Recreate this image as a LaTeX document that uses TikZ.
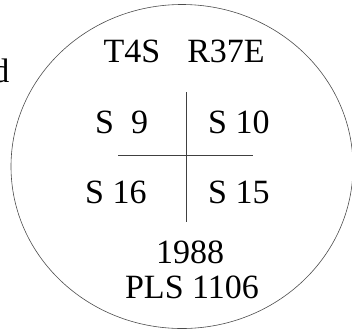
\documentclass[tikz,border=0pt]{standalone}
\usepackage{fontspec}
\setmainfont{Liberation Serif}
\usepackage{tikz}
\usetikzlibrary{positioning}

\begin{document}
\begin{tikzpicture}[x=1pt, y=-1pt,
    lbl/.style={inner sep=0pt, font=\fontsize{34}{40}\selectfont},
    rim/.style={draw=black!70, line width=0.6pt},
    cross/.style={draw=black!75, line width=0.6pt}]
  \useasboundingbox (0,0) rectangle (352,330);
  \draw[rim] (182,166.5) ellipse [x radius=171, y radius=162];
  \node[lbl, anchor=base east] (cut) at (9.5,82) {d};
  \node[lbl, anchor=base] (t4s)  at (132,62) {T4S};
  \node[lbl, anchor=base] (r37e) at (226,62) {R37E};
  \node[lbl, anchor=base west] (s9)  at (95,133) {S\ \ 9};
  \node[lbl, anchor=base west] (s10) at (208,133) {S 10};
  \node[lbl, anchor=base west] (s16) at (85,203) {S 16};
  \node[lbl, anchor=base west] (s15) at (208,203) {S 15};
  \node[lbl, anchor=base] (year) at (190,263) {1988};
  \node[lbl, anchor=base] (pls)  at (192,298) {PLS 1106};
  % cross between the four squares
  \coordinate (vtop) at (186,92);
  \coordinate (vbot) at (186,222);
  \coordinate (hleft) at (118,155);
  \coordinate (hright) at (253,155);
  \draw[cross] (vtop) -- (vbot);
  \draw[cross] (hleft) -- (hright);
\end{tikzpicture}
\end{document}
